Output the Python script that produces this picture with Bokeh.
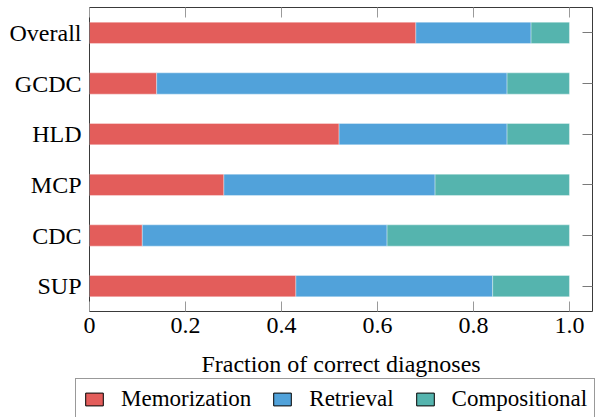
from bokeh.plotting import figure
from bokeh.layouts import column
from bokeh.models import (ColumnDataSource, FactorRange, Range1d, LinearAxis,
                          CategoricalAxis, FixedTicker, Legend, LegendItem, Label)
from bokeh.embed import file_html
from bokeh.resources import INLINE

# ---- data ----
categories = ["Overall", "GCDC", "HLD", "MCP", "CDC", "SUP"]
memorization = [0.68, 0.14, 0.52, 0.28, 0.11, 0.43]
retrieval = [0.24, 0.73, 0.35, 0.44, 0.51, 0.41]
compositional = [0.08, 0.13, 0.13, 0.28, 0.38, 0.16]
series_names = ["Memorization", "Retrieval", "Compositional"]
colors = ["#E35D5B", "#51A2DA", "#55B4AE"]
x_ticks = [0, 0.2, 0.4, 0.6, 0.8, 1.0]
x_tick_labels = ["0", "0.2", "0.4", "0.6", "0.8", "1.0"]
x_label = "Fraction of correct diagnoses"

FONT = "Liberation Serif"
FS = "24px"

source = ColumnDataSource(dict(cat=categories, Memorization=memorization,
                               Retrieval=retrieval, Compositional=compositional))

# ---------------- main chart ----------------
p = figure(width=602, height=345,
           y_range=FactorRange(factors=categories[::-1]),
           x_range=Range1d(0, 1.048),
           output_backend="svg", toolbar_location=None,
           x_axis_location=None, y_axis_location=None,
           min_border_left=89, min_border_right=10,
           min_border_top=7, min_border_bottom=34)
p.frame_align = False
p.xgrid.visible = False
p.ygrid.visible = False
p.outline_line_color = "#3a3a3a"
p.outline_line_width = 1
p.background_fill_color = "white"
p.border_fill_color = "white"

p.hbar_stack(series_names, y="cat", height=0.42, fill_color=colors,
             line_color="white", line_alpha=0.35, line_width=1, source=source)

bottom = LinearAxis(ticker=FixedTicker(ticks=x_ticks),
                    major_label_overrides=dict(zip(x_ticks, x_tick_labels)))
bottom.axis_line_color = None
bottom.major_tick_in = 10
bottom.major_tick_out = 0
bottom.major_tick_line_color = "#9a9a9a"
bottom.minor_tick_line_color = None
bottom.major_label_text_font = FONT
bottom.major_label_text_font_size = FS
bottom.major_label_text_color = "black"
bottom.major_label_standoff = 6
p.add_layout(bottom, "below")

top = LinearAxis(ticker=FixedTicker(ticks=x_ticks))
top.axis_line_color = None
top.major_tick_in = 10
top.major_tick_out = 0
top.major_tick_line_color = "#9a9a9a"
top.minor_tick_line_color = None
top.major_label_text_font_size = "0px"
top.major_label_standoff = 0
p.add_layout(top, "above")

left = CategoricalAxis()
left.axis_line_color = None
left.major_tick_line_color = None
left.major_tick_in = 0
left.major_tick_out = 0
left.major_label_text_font = FONT
left.major_label_text_font_size = FS
left.major_label_text_color = "black"
left.major_label_standoff = 8
p.add_layout(left, "left")

right = CategoricalAxis()
right.axis_line_color = None
right.major_tick_in = 10
right.major_tick_out = 0
right.major_tick_line_color = "#7a7a7a"
right.major_label_text_font_size = "0px"
right.major_label_standoff = 0
p.add_layout(right, "right")

# ---------------- axis title + legend strip ----------------
p2 = figure(width=602, height=72, x_range=Range1d(0, 560), y_range=Range1d(0, 72),
            output_backend="svg", toolbar_location=None,
            x_axis_location=None, y_axis_location=None,
            min_border_left=42, min_border_right=0,
            min_border_top=0, min_border_bottom=0)
p2.frame_align = False
p2.xgrid.visible = False
p2.ygrid.visible = False
p2.outline_line_color = None
p2.background_fill_color = "white"
p2.border_fill_color = "white"

p2.add_layout(Label(x=298.5, y=54, text=x_label, text_font=FONT,
                    text_font_size=FS, text_color="black",
                    text_align="center", text_baseline="alphabetic"))

items = []
for name, c in zip(series_names, colors):
    # legend swatch only: a single undefined (NaN) bar, never drawn in the frame
    r = p2.hbar(y=[float("nan")], right=[float("nan")], height=1,
                fill_color=c, line_color="black")
    items.append(LegendItem(label=name, renderers=[r]))

legend = Legend(items=items, orientation="horizontal", location="top_left")
legend.label_text_font = FONT
legend.label_text_font_size = "23px"
legend.label_text_color = "black"
legend.glyph_width = 22
legend.glyph_height = 16
legend.label_standoff = 16
legend.spacing = 20
legend.padding = 7
legend.margin = 33
legend.border_line_color = "#333333"
legend.border_line_width = 1
legend.background_fill_color = "white"
legend.background_fill_alpha = 1
p2.add_layout(legend, "center")

layout = column(p, p2, spacing=0)
open("out.html", "w").write(file_html(layout, INLINE))
